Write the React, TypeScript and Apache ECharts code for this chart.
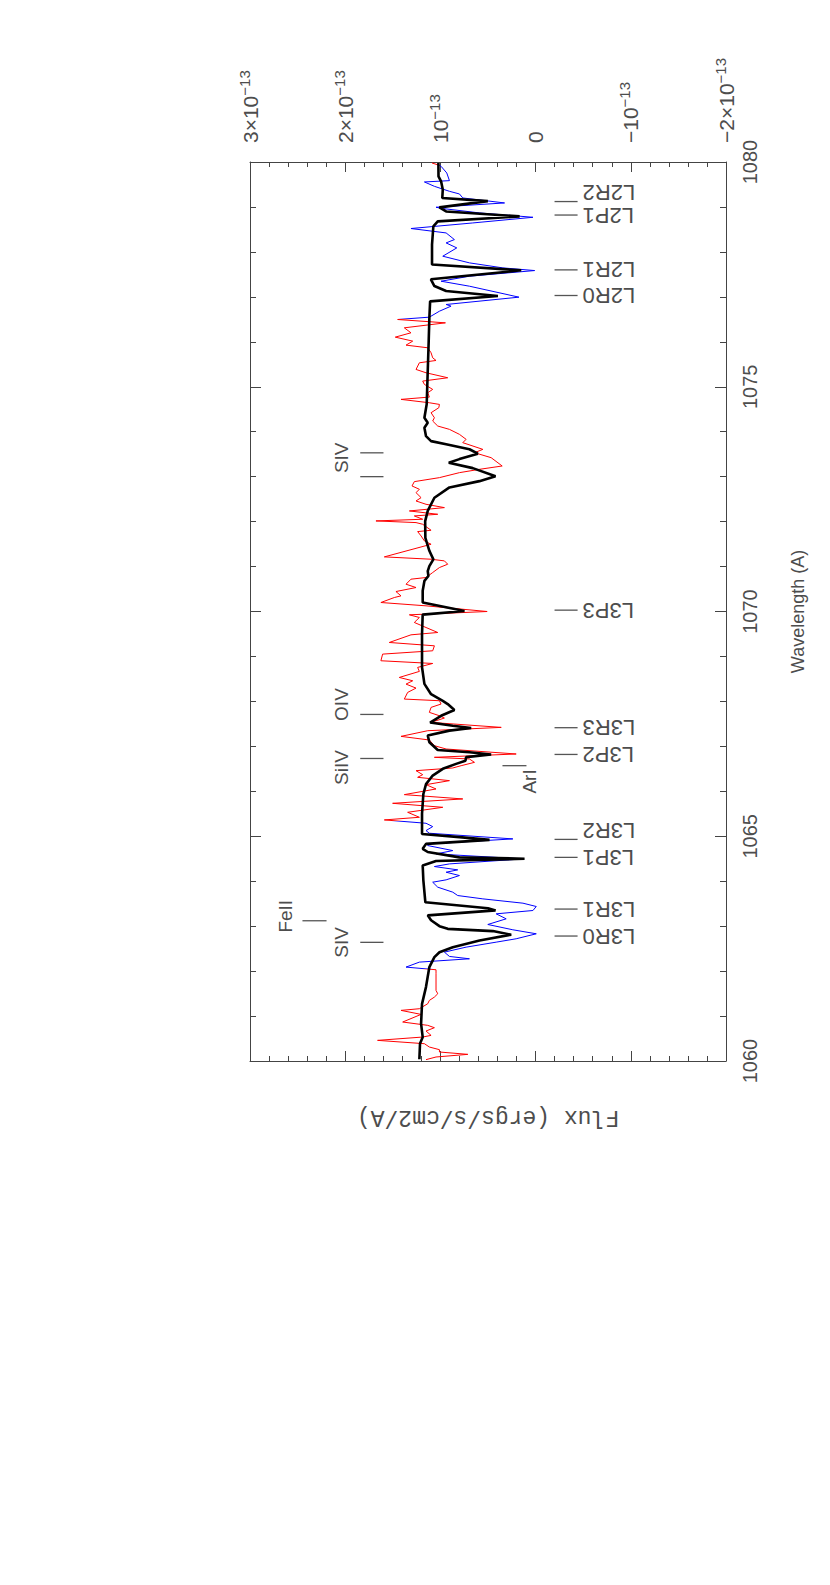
import React, { useEffect, useRef } from 'react';
import * as echarts from 'echarts';

// ---------- data (flux in units of 1e-13 ergs/s/cm2/A, wavelength in A) ----------
const obsLam = [
  1079.978, 1079.926, 1079.904, 1079.756, 1079.585, 1079.556, 1079.459, 1079.348, 1079.289, 1079.2,
  1079.089, 1078.993, 1078.963, 1078.867, 1078.77, 1078.644, 1078.52, 1078.422, 1078.274, 1078.2,
  1078.089, 1077.904, 1077.756, 1077.644, 1077.585, 1077.459, 1077.348, 1077.237, 1076.993, 1076.83,
  1076.793, 1076.681, 1076.548, 1076.496, 1076.422, 1076.311, 1076.2, 1076.104, 1076.015, 1075.926,
  1075.867, 1075.756, 1075.644, 1075.585, 1075.533, 1075.385, 1075.311, 1075.2, 1075.126, 1075.052,
  1074.941, 1074.867, 1074.77, 1074.719, 1074.644, 1074.607, 1074.533, 1074.422, 1074.311, 1074.237,
  1074.126, 1074.052, 1073.941, 1073.83, 1073.756, 1073.607, 1073.533, 1073.422, 1073.237, 1073.163,
  1073.089, 1072.978, 1072.889, 1072.793, 1072.719, 1072.644, 1072.533, 1072.459, 1072.385, 1072.311,
  1072.237, 1072.163, 1072.126, 1072.052, 1072.015, 1071.978, 1071.941, 1071.807, 1071.778, 1071.681,
  1071.57, 1071.496, 1071.215, 1071.163, 1071.126, 1071.052, 1070.978, 1070.867, 1070.756, 1070.719,
  1070.607, 1070.533, 1070.444, 1070.348, 1070.311, 1070.2, 1070.126, 1070.0, 1069.926, 1069.867,
  1069.756, 1069.644, 1069.533, 1069.481, 1069.311, 1069.237, 1069.126, 1069.052, 1068.904, 1068.844,
  1068.756, 1068.667, 1068.533, 1068.459, 1068.385, 1068.296, 1068.2, 1068.052, 1068.015, 1067.941,
  1067.867, 1067.756, 1067.681, 1067.63, 1067.533, 1067.422, 1067.348, 1067.222, 1067.141, 1067.015,
  1066.941, 1066.83, 1066.756, 1066.719, 1066.644, 1066.57, 1066.519, 1066.459, 1066.37, 1066.311,
  1066.237, 1066.148, 1066.052, 1065.926, 1065.83, 1065.733, 1065.644, 1065.533, 1065.422, 1065.363,
  1065.289, 1065.215, 1065.126, 1065.067, 1064.941, 1064.83, 1064.793, 1064.681, 1064.607, 1064.496,
  1064.385, 1064.326, 1064.252, 1064.2, 1064.126, 1064.03, 1063.978, 1063.867, 1063.756, 1063.681,
  1063.607, 1063.511, 1063.437, 1063.348, 1063.274, 1063.163, 1063.037, 1062.919, 1062.83, 1062.719,
  1062.644, 1062.533, 1062.422, 1062.326, 1062.274, 1062.2, 1062.089, 1062.03, 1061.941, 1061.57,
  1061.496, 1061.422, 1061.348, 1061.274, 1061.163, 1061.126, 1061.037, 1060.867, 1060.793, 1060.741,
  1060.667, 1060.57, 1060.533, 1060.459, 1060.385, 1060.311, 1060.252, 1060.2, 1060.148, 1060.089,
  1060.03,
];
const obsFlux = [
  1.088, 1.01, 0.993, 0.933, 0.905, 1.168, 1.063, 0.905, 0.8, 0.765,
  0.326, 1.046, 0.968, 0.589, 0.028, 0.66, 1.309, 0.94, 0.853, 0.94,
  0.828, 0.975, 0.695, 0.344, 0.01, 0.695, 0.993, 0.695, 0.175, 0.94,
  0.888, 1.01, 1.116, 1.449, 0.947, 1.379, 1.309, 1.474, 1.291, 1.361,
  1.133, 1.098, 1.081, 1.046, 1.221, 1.256, 1.151, 0.923, 1.186, 1.168,
  1.081, 1.133, 1.116, 1.414, 1.116, 1.01, 1.017, 1.098, 1.063, 1.081,
  1.028, 0.905, 0.8, 0.73, 0.765, 0.554, 0.642, 0.467, 0.351, 0.589,
  0.8, 1.01, 1.274, 1.298, 1.221, 1.256, 1.203, 1.256, 1.151, 0.958,
  1.326, 1.028, 1.274, 1.186, 1.677, 1.256, 1.186, 1.098, 1.239, 1.203,
  1.168, 1.098, 1.589, 1.098, 0.958, 0.923, 1.01, 1.081, 1.151, 1.309,
  1.361, 1.256, 1.467, 1.414, 1.484, 1.625, 1.151, 0.509, 1.326, 1.221,
  1.274, 1.151, 1.028, 1.309, 1.537, 1.063, 1.081, 1.607, 1.625, 1.081,
  1.239, 1.221, 1.432, 1.291, 1.361, 1.256, 1.344, 1.379, 1.01, 0.993,
  1.098, 1.116, 1.01, 0.958, 1.098, 0.361, 1.133, 1.414, 1.116, 1.063,
  0.94, 0.204, 1.063, 0.695, 0.642, 0.782, 0.87, 1.256, 1.186, 1.239,
  0.905, 1.151, 1.046, 1.379, 0.765, 1.502, 0.975, 1.344, 1.221, 1.589,
  1.151, 1.081, 1.151, 1.116, 0.239, 1.116, 1.133, 0.87, 1.046, 0.133,
  0.905, 1.063, 0.818, 0.94, 0.8, 0.94, 1.081, 1.028, 0.87, 0.818,
  0.554, 0.133, -0.007, 0.028, 0.414, 0.309, 0.502, 0.239, -0.007, 0.204,
  0.414, 0.73, 0.958, 0.905, 0.695, 1.221, 1.361, 1.046, 1.046, 1.046,
  1.028, 1.063, 1.116, 1.133, 1.221, 1.414, 1.203, 1.396, 1.133, 1.063,
  1.151, 1.098, 1.186, 1.66, 1.168, 1.116, 1.01, 1.01, 0.712, 1.046,
  1.151,
];

const modelLam = [
  1079.98, 1079.68, 1079.57, 1079.39, 1079.2, 1079.13, 1078.99, 1078.9, 1078.79, 1078.68,
  1078.57, 1078.16, 1077.72, 1077.59, 1077.39, 1077.24, 1077.13, 1077.02, 1076.9, 1076.53,
  1076.01, 1075.35, 1074.61, 1074.31, 1074.2, 1074.09, 1073.9, 1073.79, 1073.72, 1073.61,
  1073.51, 1073.39, 1073.31, 1073.19, 1073.01, 1072.9, 1072.76, 1072.53, 1072.24, 1072.01,
  1071.64, 1071.35, 1071.16, 1071.01, 1070.9, 1070.79, 1070.68, 1070.46, 1070.2, 1070.01,
  1069.93, 1069.5, 1068.76, 1068.39, 1068.16, 1068.01, 1067.94, 1067.81, 1067.68, 1067.53,
  1067.46, 1067.41, 1067.35, 1067.24, 1067.09, 1066.92, 1066.87, 1066.82, 1066.76, 1066.68,
  1066.61, 1066.5, 1066.35, 1066.16, 1065.94, 1065.5, 1065.05, 1064.98, 1064.92, 1064.83,
  1064.72, 1064.65, 1064.53, 1064.5, 1064.45, 1064.35, 1064.02, 1063.53, 1063.4, 1063.35,
  1063.24, 1063.13, 1063.0, 1062.94, 1062.89, 1062.81, 1062.68, 1062.53, 1062.42, 1062.31,
  1062.09, 1061.65, 1061.27, 1060.83, 1060.53, 1060.39, 1060.04,
];
const modelFlux = [
  1.021, 1.02, 0.993, 0.975, 0.98, 0.502, 1.01, 0.94, 0.168, 1.028,
  1.074, 1.088, 1.088, 0.151, 1.1, 1.063, 0.94, 0.396, 1.108, 1.116,
  1.123, 1.133, 1.144, 1.168, 1.133, 1.168, 1.151, 1.098, 0.94, 0.695,
  0.607, 0.8, 0.912, 0.66, 0.421, 0.59, 0.905, 1.063, 1.133, 1.16,
  1.158, 1.116, 1.074, 1.116, 1.133, 1.126, 1.168, 1.186, 1.186, 0.747,
  1.186, 1.193, 1.193, 1.168, 1.098, 0.975, 0.923, 0.853, 0.993, 1.108,
  0.87, 0.677, 0.905, 1.133, 1.116, 1.028, 0.695, 0.467, 0.73, 0.737,
  0.835, 0.975, 1.081, 1.151, 1.179, 1.193, 1.193, 0.8, 0.484, 1.151,
  1.186, 1.133, 0.8, 0.116, 1.046, 1.186, 1.179, 1.158, 0.5, 0.421,
  1.133, 1.098, 1.01, 0.923, 0.449, 0.256, 0.589, 0.87, 1.01, 1.063,
  1.116, 1.151, 1.193, 1.203, 1.186, 1.214, 1.221,
];

// wavelength ranges where the observed spectrum is drawn in blue
const blueRanges = [[1062.05, 1065.35], [1076.5, 1079.94]];

// H2 line identifications (right)
const h2Names = ['L2R2', 'L2P1', 'L2R1', 'L2R0', 'L3P3', 'L3R3', 'L3P2', 'L3R2', 'L3P1', 'L3R1', 'L3R0'];
const h2Lam = [1079.12, 1078.82, 1077.6, 1077.03, 1070.03, 1067.415, 1066.82, 1064.93, 1064.53, 1063.38, 1062.78];

// other species: tick marks and labels
const speciesMarkLam = [1073.53, 1073.0, 1067.71, 1066.73, 1062.64, 1063.12, 1066.57];
const speciesMarkTier = [0, 0, 0, 0, 0, 1, 2];
const speciesNames = ['SIV', 'OIV', 'SiIV', 'SIV', 'FeII', 'ArI'];
const speciesLabelLam = [1073.42, 1067.93, 1066.53, 1062.64, 1063.22, 1066.22];
const speciesLabelTier = [0, 0, 0, 0, 1, 2];

// axis tick labels
const fluxTickValues = [3, 2, 1, 0, -1, -2];
const fluxTickMant = ['3×10', '2×10', '10', '0', '−10', '−2×10'];
const fluxTickExp = '−13';

// ---------- layout / style constants ----------
const TXT = '#4d4d4d';
const AX = '#444';
const FONT = '"Liberation Sans", Arial, sans-serif';
const TIERS = [
  { m1: 1.842, m2: 1.598, t: 2.034 },
  { m1: 2.449, m2: 2.196, t: 2.627 },
  { m1: 0.348, m2: 0.096, t: 0.069 },
];
const H2_M1 = -0.199;
const H2_M2 = -0.441;
const H2_T = -0.493;

function fluxLabel(v: number) {
  const i = fluxTickValues.findIndex((t) => Math.abs(t - v) < 1e-9);
  if (i < 0) return '';
  if (fluxTickValues[i] === 0) return '{a|0}';
  return `{a|${fluxTickMant[i]}}{s|${fluxTickExp}}`;
}

function axisCommon(position: string) {
  return {
    type: 'value',
    position,
    axisLine: { show: true, onZero: false, lineStyle: { color: AX, width: 1 } },
    axisTick: { show: true, inside: true, length: 10, lineStyle: { color: AX, width: 1 } },
    minorTick: { show: true, splitNumber: 5, length: 5, lineStyle: { color: AX, width: 1 } },
    splitLine: { show: false },
    minorSplitLine: { show: false },
  };
}

export default function App() {
  const ref = useRef<HTMLDivElement>(null);

  useEffect(() => {
    if (!ref.current) return;
    const chart = echarts.init(ref.current, undefined, { renderer: 'svg' });

    const obsData = obsLam.map((l, i) => [obsFlux[i], l]);
    const modelData = modelLam.map((l, i) => [modelFlux[i], l]);

    const pieces: any[] = [];
    let prev = -Infinity;
    blueRanges.forEach(([a, b]) => {
      pieces.push({ gte: prev, lt: a, color: '#ff0000' });
      pieces.push({ gte: a, lt: b, color: '#0000ff' });
      prev = b;
    });
    pieces.push({ gte: prev, color: '#ff0000' });
    pieces[0] = { lt: blueRanges[0][0], color: '#ff0000' };

    const option: any = {
      animation: false,
      backgroundColor: '#ffffff',
      grid: { left: 250, top: 162, width: 476, height: 899, outerBoundsMode: 'none' },
      xAxis: [
        {
          ...axisCommon('top'),
          min: -2,
          max: 3,
          interval: 1,
          inverse: true,
          axisLabel: {
            show: true,
            rotate: -90,
            margin: 19,
            color: TXT,
            fontFamily: FONT,
            fontSize: 21,
            formatter: fluxLabel,
            rich: {
              a: { fontSize: 21, fontFamily: FONT, color: TXT, lineHeight: 27 },
              s: { fontSize: 15, fontFamily: FONT, color: TXT, lineHeight: 15, verticalAlign: 'top' },
            },
          },
        },
        {
          ...axisCommon('bottom'),
          min: -2,
          max: 3,
          interval: 1,
          inverse: true,
          axisLabel: { show: false },
          name: 'Flux (ergs/s/cm2/A)',
          nameLocation: 'middle',
          nameRotate: 180,
          nameGap: 44,
          nameTextStyle: { color: TXT, fontFamily: '"Liberation Mono", monospace', fontSize: 23 },
        },
      ],
      yAxis: [
        {
          ...axisCommon('right'),
          min: 1060,
          max: 1080,
          interval: 5,
          axisTick: { show: true, inside: true, length: 11, lineStyle: { color: AX, width: 1 } },
          minorTick: { show: true, splitNumber: 5, length: 6, lineStyle: { color: AX, width: 1 } },
          axisLabel: {
            show: true,
            rotate: 90,
            margin: 14,
            color: TXT,
            fontFamily: FONT,
            fontSize: 20,
            formatter: (v: number) => String(Math.round(v)),
          },
          name: 'Wavelength (A)',
          nameLocation: 'middle',
          nameRotate: 90,
          nameGap: 63,
          nameTextStyle: { color: TXT, fontFamily: FONT, fontSize: 18 },
        },
        {
          ...axisCommon('left'),
          min: 1060,
          max: 1080,
          interval: 5,
          axisTick: { show: true, inside: true, length: 11, lineStyle: { color: AX, width: 1 } },
          minorTick: { show: true, splitNumber: 5, length: 6, lineStyle: { color: AX, width: 1 } },
          axisLabel: { show: false },
        },
      ],
      visualMap: {
        type: 'piecewise',
        show: false,
        seriesIndex: 0,
        dimension: 1,
        pieces,
      },
      series: [
        {
          type: 'line',
          xAxisIndex: 0,
          yAxisIndex: 0,
          data: obsData,
          showSymbol: false,
          symbol: 'none',
          lineStyle: { width: 1 },
          z: 2,
        },
        {
          type: 'line',
          xAxisIndex: 0,
          yAxisIndex: 0,
          data: modelData,
          showSymbol: false,
          symbol: 'none',
          lineStyle: { width: 2.6, color: '#000' },
          itemStyle: { color: '#000' },
          z: 3,
        },
        {
          type: 'custom',
          xAxisIndex: 0,
          yAxisIndex: 0,
          clip: false,
          encode: { x: 0, y: 1 },
          data: h2Lam.map((l) => [H2_M1, l]),
          z: 4,
          renderItem: (params: any, api: any) => {
            const lam = api.value(1);
            const p1 = api.coord([H2_M1, lam]);
            const p2 = api.coord([H2_M2, lam]);
            const pt = api.coord([H2_T, lam]);
            const name = h2Names[params.dataIndex];
            const dy = name.endsWith('R2') ? -9 : 0;
            return {
              type: 'group',
              children: [
                {
                  type: 'line',
                  shape: { x1: p1[0], y1: p1[1], x2: p2[0], y2: p2[1] },
                  style: { stroke: '#555', lineWidth: 1.3 },
                },
                {
                  type: 'text',
                  x: pt[0],
                  y: pt[1] + dy,
                  rotation: Math.PI,
                  style: {
                    text: name,
                    fill: TXT,
                    fontFamily: FONT,
                    fontSize: 22,
                    align: 'right',
                    verticalAlign: 'middle',
                  },
                },
              ],
            };
          },
        },
        {
          type: 'custom',
          xAxisIndex: 0,
          yAxisIndex: 0,
          clip: false,
          encode: { x: 0, y: 1 },
          data: speciesMarkLam.map((l, i) => [TIERS[speciesMarkTier[i]].m1, l]),
          z: 4,
          renderItem: (params: any, api: any) => {
            const lam = api.value(1);
            const tier = TIERS[speciesMarkTier[params.dataIndex]];
            const p1 = api.coord([tier.m1, lam]);
            const p2 = api.coord([tier.m2, lam]);
            return {
              type: 'line',
              shape: { x1: p1[0], y1: p1[1], x2: p2[0], y2: p2[1] },
              style: { stroke: '#555', lineWidth: 1.3 },
            };
          },
        },
        {
          type: 'custom',
          xAxisIndex: 0,
          yAxisIndex: 0,
          clip: false,
          encode: { x: 0, y: 1 },
          data: speciesLabelLam.map((l, i) => [TIERS[speciesLabelTier[i]].t, l]),
          z: 4,
          renderItem: (params: any, api: any) => {
            const lam = api.value(1);
            const tier = TIERS[speciesLabelTier[params.dataIndex]];
            const pt = api.coord([tier.t, lam]);
            return {
              type: 'text',
              x: pt[0],
              y: pt[1],
              rotation: Math.PI / 2,
              style: {
                text: speciesNames[params.dataIndex],
                fill: TXT,
                fontFamily: FONT,
                fontSize: 19,
                align: 'center',
                verticalAlign: 'middle',
              },
            };
          },
        },
      ],
    };

    chart.setOption(option);
    return () => chart.dispose();
  }, []);

  return (
    <div
      ref={ref}
      style={{ position: 'absolute', left: 0, top: 0, width: 830, height: 1585, background: '#fff' }}
    />
  );
}
